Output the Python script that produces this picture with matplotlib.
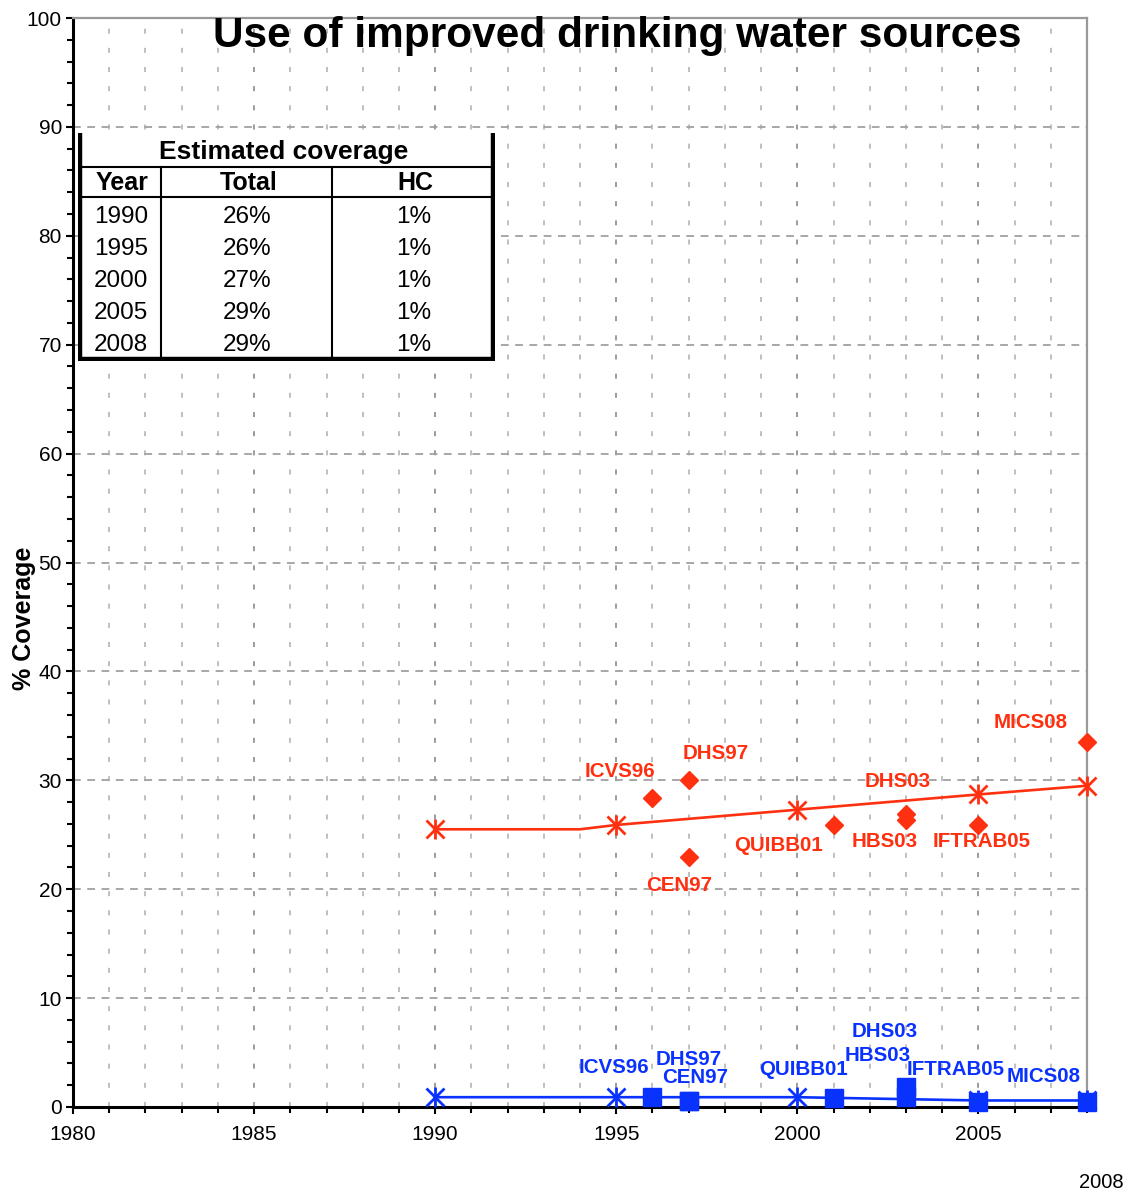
import numpy as np
import matplotlib
matplotlib.use('Agg')
import matplotlib.pyplot as plt
from matplotlib.ticker import MultipleLocator

plt.rcParams['font.family'] = ['Liberation Sans', 'DejaVu Sans']

# estimated coverage lines
line_years = [1990, 1994, 1995, 2000, 2005, 2008]
total_line = [25.5, 25.5, 25.9, 27.3, 28.7, 29.5]
hc_line = [0.9, 0.9, 0.9, 0.9, 0.6, 0.6]

# survey points
survey_names = ['ICVS96', 'DHS97', 'CEN97', 'QUIBB01', 'DHS03', 'HBS03', 'IFTRAB05', 'MICS08']
survey_years = [1996, 1997, 1997, 2001, 2003, 2003, 2005, 2008]
total_survey = [28.4, 30.0, 23.0, 25.9, 26.9, 26.4, 25.9, 33.5]
hc_survey = [0.9, 0.55, 0.55, 0.8, 1.8, 0.9, 0.5, 0.5]

# table
table_years = ['1990', '1995', '2000', '2005', '2008']
table_total = ['26%', '26%', '27%', '29%', '29%']
table_hc = ['1%', '1%', '1%', '1%', '1%']

# label offsets (data units) from each survey point
red_off = [(-0.9, 2.4), (0.76, 2.5), (-0.26, -2.7), (-1.53, -1.9),
           (-0.24, 3.0), (-0.6, -2.0), (0.08, -1.5), (-1.57, 1.8)]
blue_off = [(-1.06, 2.7), (0.01, 3.85), (0.18, 2.15), (-0.84, 2.6),
            (-0.6, 5.1), (-0.77, 3.8), (-0.64, 2.9), (-1.21, 2.3)]

RED = '#FF3010'
BLUE = '#0A32FF'

W, H = 1131, 1193
fig = plt.figure(figsize=(W / 100, H / 100), dpi=100)
ax = fig.add_axes([73 / W, 1 - 1107 / H, (1087 - 73) / W, (1107 - 18) / H])

ax.set_xlim(1980, 2008)
ax.set_ylim(0, 100)

# grid
for yr in range(1981, 2008):
    c = '#8a8a8a' if yr % 5 == 0 else '#b4b4b4'
    ax.axvline(yr, color=c, lw=1.2, dashes=(3, 8.5), zorder=0)
for v in range(10, 100, 10):
    ax.axhline(v, color='#a0a0a0', lw=1.3, dashes=(4.3, 3.6), zorder=0)

# lines
mk = [0, 2, 3, 4, 5]
for vals, col in [(total_line, RED), (hc_line, BLUE)]:
    ax.plot(line_years, vals, color=col, lw=1.9, zorder=3, clip_on=False)
    xs = [line_years[i] for i in mk]
    ys = [vals[i] for i in mk]
    ax.plot(xs, ys, 'x', color=col, ms=12.5, mew=2, zorder=4, clip_on=False)
    ax.plot(xs, ys, '|', color=col, ms=14.5, mew=2, zorder=4, clip_on=False)

ax.plot(survey_years, total_survey, 'D', color=RED, ms=9.5, ls='none', zorder=5, clip_on=False)
ax.plot(survey_years, hc_survey, 's', color=BLUE, ms=13, ls='none', zorder=5, clip_on=False)

for name, x, y, (dx, dy) in zip(survey_names, survey_years, total_survey, red_off):
    ax.text(x + dx, y + dy, name, color=RED, fontsize=14.8, fontweight='bold',
            ha='center', va='center', zorder=6)
for name, x, y, (dx, dy) in zip(survey_names, survey_years, hc_survey, blue_off):
    ax.text(x + dx, y + dy, name, color=BLUE, fontsize=14.8, fontweight='bold',
            ha='center', va='center', zorder=6)

# axes styling
ax.spines['left'].set_linewidth(2.2)
ax.spines['bottom'].set_linewidth(2.2)
ax.spines['top'].set_color('#999999')
ax.spines['right'].set_color('#999999')
ax.spines['top'].set_linewidth(1.6)
ax.spines['right'].set_linewidth(1.6)

ax.xaxis.set_major_locator(MultipleLocator(5))
ax.xaxis.set_minor_locator(MultipleLocator(1))
ax.yaxis.set_major_locator(MultipleLocator(10))
ax.yaxis.set_minor_locator(MultipleLocator(2))
ax.tick_params(axis='both', which='major', direction='out', length=5, width=1.5,
               labelsize=15, color='black')
ax.tick_params(axis='both', which='minor', direction='out', length=4, width=1.5)
ax.tick_params(axis='x', which='major', pad=8)
ax.tick_params(axis='y', which='major', pad=3)

ax.set_ylabel('% Coverage', fontsize=18, fontweight='bold')
ax.yaxis.set_label_coords(-0.036, 0.449)

fig.text(617 / W, 1 - 36 / H, 'Use of improved drinking water sources',
         fontsize=30.5, fontweight='bold', ha='center', va='center')
fig.text(1124 / W, 1 - 1182 / H, '2008', fontsize=14.5, ha='right', va='center')

# estimated coverage table
tx0, ty0, tx1, ty1 = 78, 133, 495, 361
tab = fig.add_axes([tx0 / W, 1 - ty1 / H, (tx1 - tx0) / W, (ty1 - ty0) / H])
tab.set_xlim(0, tx1 - tx0)
tab.set_ylim(ty1 - ty0, 0)
tab.axis('off')
tw, th = tx1 - tx0, ty1 - ty0
tab.add_patch(plt.Rectangle((0, 0), tw, th, color='white', zorder=0))
tab.plot([2, 2], [0, th - 2], color='black', lw=3.2)
tab.plot([tw - 2, tw - 2], [0, th - 2], color='black', lw=3.2)
tab.plot([0, tw], [th - 2, th - 2], color='black', lw=3.2)
tab.plot([2, tw - 2], [34, 34], color='black', lw=1.5)
tab.plot([2, tw - 2], [64, 64], color='black', lw=1.5)
tab.plot([83, 83], [34, th - 2], color='black', lw=1.5)
tab.plot([254, 254], [34, th - 2], color='black', lw=1.5)

tab.text(206, 19, 'Estimated coverage', fontsize=19, fontweight='bold', ha='center', va='center')
for cx, lab in zip([44, 171, 337], ['Year', 'Total', 'HC']):
    tab.text(cx, 50, lab, fontsize=18, fontweight='bold', ha='center', va='center')
for i, (yr, tot, hc) in enumerate(zip(table_years, table_total, table_hc)):
    ry = 84 + 32 * i
    tab.text(43, ry, yr, fontsize=17.5, ha='center', va='center')
    tab.text(169, ry, tot, fontsize=17.5, ha='center', va='center')
    tab.text(336, ry, hc, fontsize=17.5, ha='center', va='center')

fig.savefig('out.png', dpi=100)
